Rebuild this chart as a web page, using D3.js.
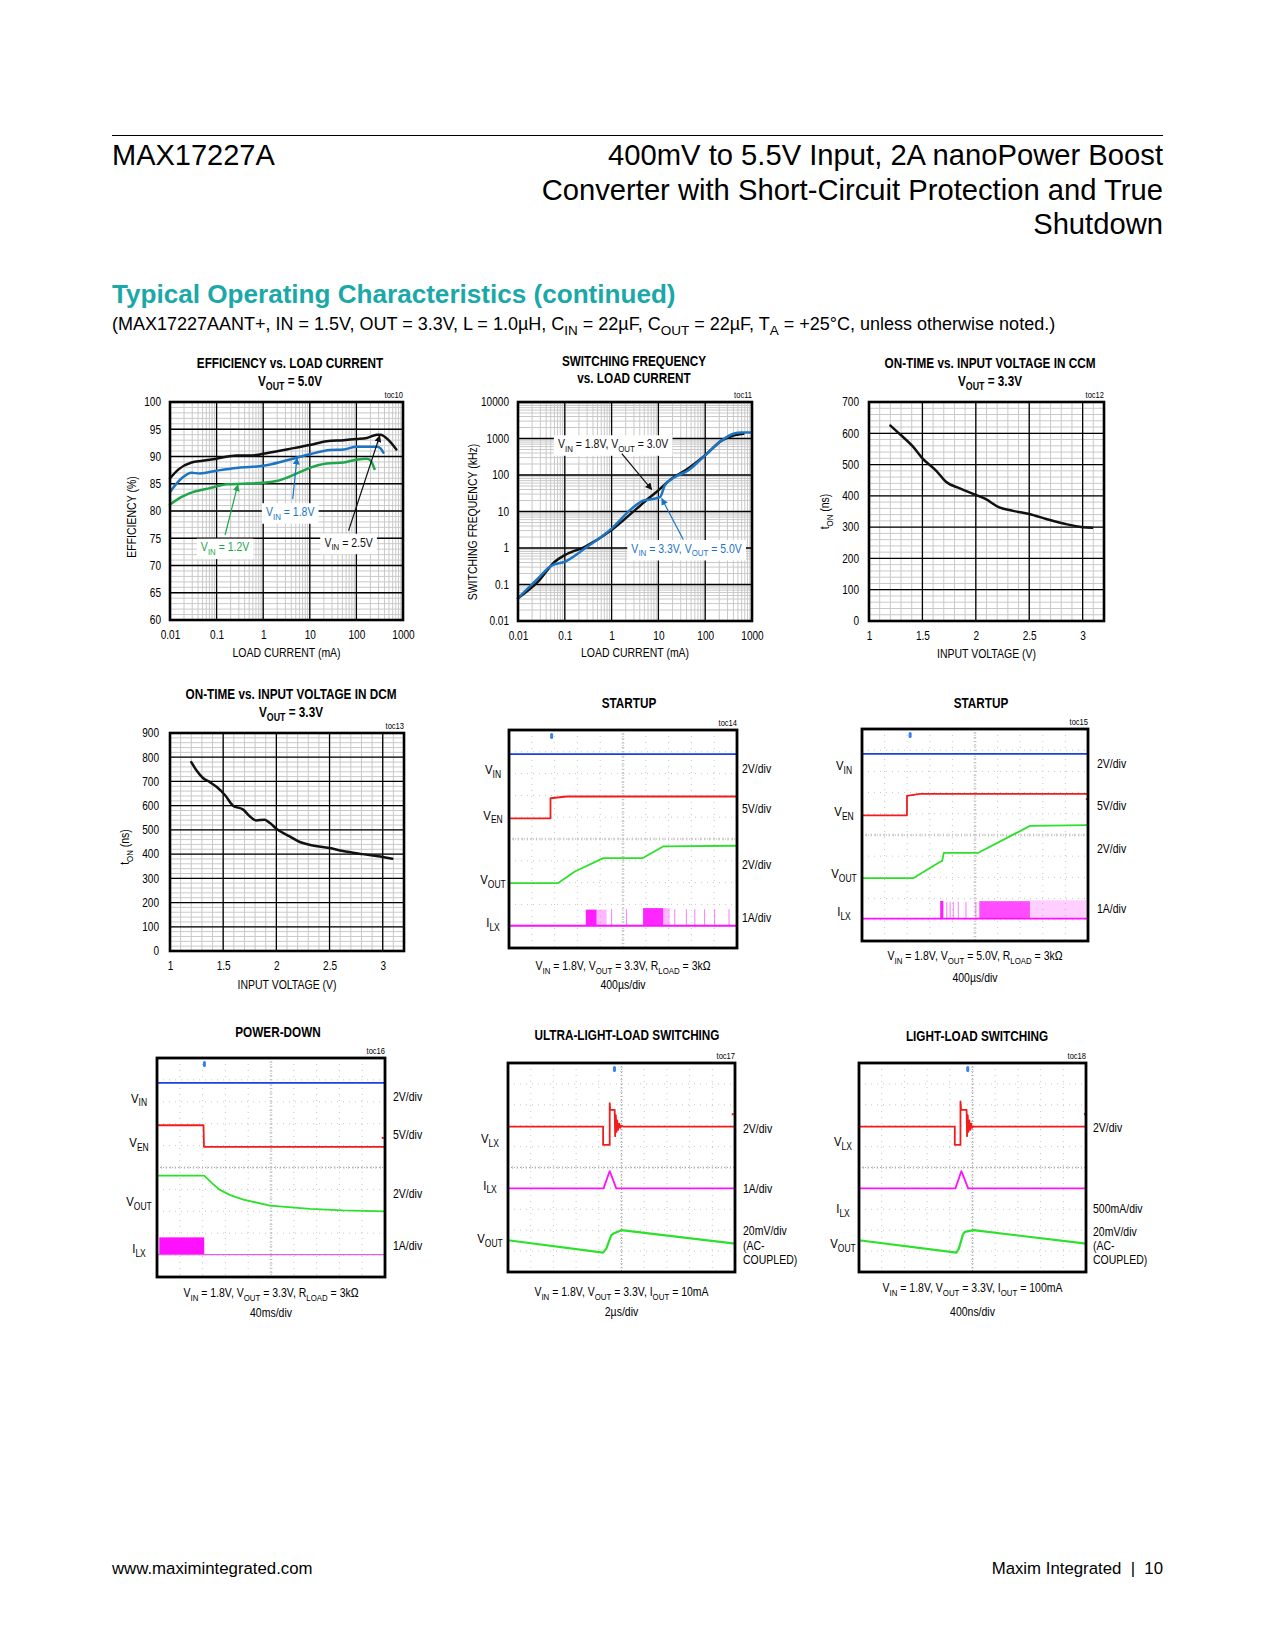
<!DOCTYPE html>
<html><head><meta charset="utf-8">
<script src="https://cdn.jsdelivr.net/npm/d3@7"></script>
<style>body{margin:0;background:#fff}svg{display:block}</style>
</head><body>
<script>
// ---------------- DATA ----------------
// toc10: efficiency (%) vs load current (mA)
const effVin25 = [[0.01,86.0],[0.015,87.6],[0.029,88.9],[0.05,89.2],[0.1,89.6],[0.27,90.2],[0.6,90.2],[1,90.5],[3.2,91.3],[10,92.1],[23,92.8],[53,93.0],[100,93.2],[168,93.4],[278,94.0],[330,94.0],[490,93.0],[720,91.3]];
const effVin18 = [[0.01,83.5],[0.0178,86.0],[0.029,87.0],[0.044,86.9],[0.1,87.4],[0.27,87.9],[0.6,88.1],[1,88.3],[3.2,89.3],[10,90.4],[27,91.2],[53,91.3],[100,91.8],[278,91.8],[330,91.5],[380,90.7]];
const effVin12 = [[0.01,81.2],[0.0178,82.6],[0.032,83.5],[0.072,84.2],[0.165,84.9],[0.375,85.0],[1,85.2],[1.94,85.5],[5.3,86.9],[10,87.9],[23,88.7],[53,88.9],[100,89.4],[168,89.6],[200,89.3],[245,87.7]];
const loadTicks = [0.01,0.1,1,10,100,1000];
const loadTickLabels = ["0.01","0.1","1","10","100","1000"];
const effTicks = [60,65,70,75,80,85,90,95,100];

// toc11: switching frequency (kHz) vs load current (mA)
const fswVin18 = [[0.01,0.042],[0.0268,0.119],[0.061,0.42],[0.1,0.64],[0.268,1.08],[1,3.1],[3.16,10.9],[6.1,22.6],[10,38],[19,79],[43,150],[100,347],[228,890],[373,1170],[660,1350]];
const fswVin33 = [[0.01,0.042],[0.0268,0.147],[0.052,0.33],[0.1,0.42],[0.268,0.97],[1,3.4],[2.7,12],[4.8,20],[8.5,22.6],[10.9,25],[13.7,52],[22.6,88],[43,133],[84,280],[228,890],[400,1350],[600,1460],[900,1460]];
const fswTicks = [0.01,0.1,1,10,100,1000,10000];
const fswTickLabels = ["0.01","0.1","1","10","100","1000","10000"];

// toc12 / toc13: on-time (ns) vs input voltage (V)
const tonCCM = [[1.2,625],[1.29,597],[1.41,558],[1.5,520],[1.63,480],[1.72,445],[1.85,424],[2.0,403],[2.09,390],[2.22,363],[2.35,352],[2.5,342],[2.66,326],[2.84,310],[3.0,300],[3.09,298]];
const tonDCM = [[1.2,780],[1.25,745],[1.31,714],[1.375,697],[1.44,677],[1.52,642],[1.59,601],[1.69,583],[1.75,556],[1.81,539],[1.89,542],[1.94,528],[2.0,505],[2.125,473],[2.22,450],[2.31,439],[2.5,425],[2.625,413],[2.81,400],[3.0,388],[3.09,381]];
const vinTicks = [1,1.5,2,2.5,3];
const vinTickLabels = ["1","1.5","2","2.5","3"];
const tonCCMTicks = [0,100,200,300,400,500,600,700];
const tonDCMTicks = [0,100,200,300,400,500,600,700,800,900];

// scope traces (time in divisions 0..10, level in divisions 0..10)
const s14Vin = [[0,8.89],[10,8.89]];
const s14Ven = [[0,5.95],[1.82,5.95],[1.82,6.87],[2.53,6.95],[10,6.95]];
const s14Vout = [[0,2.98],[2.16,2.98],[2.89,3.51],[4.13,4.12],[5.85,4.12],[6.76,4.66],[10,4.69]];
const s14Ilx = [[0,1.02],[10,1.02]];
const s14IlxBursts = [[3.37,3.84,1.76,0.95],[3.84,4.28,1.76,0.3],[5.88,6.76,1.83,0.9],[6.76,7.05,1.83,0.3]];
const s14IlxPulses = [4.5,5.15,7.27,7.78,8.15,8.58,9.02,9.65];

const s15Vin = [[0,8.83],[10,8.83]];
const s15Ven = [[0,5.93],[1.99,5.93],[1.99,6.85],[2.57,6.94],[10,6.94]];
const s15Vout = [[0,2.97],[2.28,2.97],[3.46,3.74],[3.55,3.78],[3.62,4.16],[5.15,4.16],[7.43,5.43],[10,5.47]];
const s15Ilx = [[0,1.06],[10,1.06]];
const s15IlxBursts = [[3.46,3.6,1.89,0.95],[5.19,7.43,1.88,0.75],[7.43,9.93,1.92,0.2]];
const s15IlxPulses = [3.75,3.9,4.04,4.26,4.6,5.04];

const s16Vin = [[0,8.86],[10,8.86]];
const s16Ven = [[0,6.93],[2.04,6.93],[2.06,5.94],[10,5.94]];
const s16Vout = [[0,4.63],[2.07,4.63],[2.4,4.3],[2.74,3.99],[3.21,3.74],[3.79,3.53],[4.96,3.26],[6.71,3.11],[8.16,3.04],[10,3.0]];
const s16Ilx = [[0,1.02],[10,1.02]];
const s16IlxBursts = [[0.1,2.07,1.81,1.0]];

const s17Vlx = [[0,6.96],[4.19,6.96],[4.19,6.08],[4.48,6.08],[4.48,8.08],[4.5,7.76],[4.70,7.76],[4.72,6.5],[4.75,7.5],[4.78,6.7],[4.81,7.25],[4.85,6.8],[4.9,7.1],[4.95,6.9],[5.0,7.0],[5.07,6.96],[10,6.96]];
const s17Ilx = [[0,4.0],[4.21,4.0],[4.48,4.83],[4.77,4.0],[10,4.0]];
const s17Vout = [[0,1.52],[4.19,0.93],[4.33,1.12],[4.55,1.76],[4.65,1.84],[4.99,2.0],[10,1.36]];

const s18Vlx = [[0,6.96],[4.22,6.96],[4.22,6.08],[4.47,6.08],[4.47,8.16],[4.5,7.76],[4.74,7.76],[4.76,6.5],[4.79,7.5],[4.82,6.7],[4.86,7.25],[4.9,6.8],[4.94,7.1],[4.98,6.9],[5.03,6.96],[10,6.96]];
const s18Ilx = [[0,4.0],[4.25,4.0],[4.51,4.83],[4.81,4.0],[10,4.0]];
const s18Vout = [[0,1.52],[4.29,0.93],[4.4,1.12],[4.58,1.8],[4.66,1.92],[5.04,2.0],[10,1.36]];

// ---------------- SETUP ----------------
const W = 1275, H = 1650;
const SANS = "'Liberation Sans', Arial, Helvetica, sans-serif";
const NARROW = "'Liberation Sans', Arial, Helvetica, sans-serif";
const SX = 0.84; // horizontal condensing for chart text (narrow face look)
const C = {black:'#111', blue:'#1b75c4', green:'#1ea64b',
  sBlue:'#1c3fe6', sRed:'#f21c1c', sGreen:'#2ce02c', sMag:'#ff10ff', teal:'#1aa8a8'};

const svg = d3.select('body').append('svg').attr('width', W).attr('height', H)
  .style('background', '#fff');
const defs = svg.append('defs');
function arrowMarker(id, color) {
  defs.append('marker').attr('id', id).attr('viewBox', '0 0 10 10').attr('refX', 9).attr('refY', 5)
    .attr('markerWidth', 7).attr('markerHeight', 7).attr('orient', 'auto-start-reverse')
    .attr('markerUnits', 'userSpaceOnUse')
    .append('path').attr('d', 'M0,0 L10,5 L0,10 z').attr('fill', color);
}
arrowMarker('arBlack', C.black); arrowMarker('arBlue', C.blue); arrowMarker('arGreen', C.green);

// rich text: "V_{IN} = 1.8V"
function rich(sel, str, fs) {
  const parts = str.split(/(_\{[^}]*\})/);
  let sub = false;
  const d = fs * 0.28;
  parts.forEach(p => {
    if (!p) return;
    if (p.startsWith('_{')) {
      sel.append('tspan').attr('dy', d).attr('font-size', fs * 0.75).text(p.slice(2, -1));
      sub = true;
    } else {
      const t = sel.append('tspan').text(p);
      if (sub) { t.attr('dy', -d); sub = false; }
    }
  });
  return sel;
}
function label(parent, x, y, str, fs, opts = {}) {
  const page = !!opts.family;
  const sx = page ? 1 : SX;
  const t = parent.append('text')
    .attr('transform', `translate(${x},${y})` + (opts.rotate ? ` rotate(${opts.rotate})` : '') + ` scale(${sx},1)`)
    .attr('font-family', opts.family || NARROW).attr('font-size', fs)
    .attr('font-weight', opts.bold ? 'bold' : 'normal')
    .attr('text-anchor', opts.anchor || 'start').attr('fill', opts.color || '#000');
  if (opts.pre) t.style('white-space', 'pre');
  rich(t, str, fs);
  return t;
}

// ---------------- PAGE HEADER ----------------
svg.append('line').attr('x1', 112).attr('x2', 1163).attr('y1', 135.5).attr('y2', 135.5)
  .attr('stroke', '#000').attr('stroke-width', 1);
label(svg, 112, 165, 'MAX17227A', 29, {family: SANS});
['400mV to 5.5V Input, 2A nanoPower Boost', 'Converter with Short-Circuit Protection and True', 'Shutdown']
  .forEach((s, i) => label(svg, 1163, 165 + i * 34.5, s, 29.2, {family: SANS, anchor: 'end'}));
label(svg, 112, 303, 'Typical Operating Characteristics (continued)', 26.1, {family: SANS, bold: true, color: C.teal});
label(svg, 112, 330, '(MAX17227AANT+, IN = 1.5V, OUT = 3.3V, L = 1.0µH, C_{IN} = 22µF, C_{OUT} = 22µF, T_{A} = +25°C, unless otherwise noted.)', 18, {family: SANS});
label(svg, 112, 1574, 'www.maximintegrated.com', 16.8, {family: SANS});
label(svg, 1163, 1574, 'Maxim Integrated  |  10', 16.8, {family: SANS, anchor: 'end', pre: true});

// ---------------- XY CHART ----------------
function condenseAxis(a) {
  a.select('.domain').remove();
  a.selectAll('text').each(function () {
    const el = d3.select(this);
    const xv = +el.attr('x') || 0;
    el.attr('x', xv / SX).attr('transform', `scale(${SX},1)`)
      .attr('font-family', NARROW).attr('font-size', 12).attr('fill', '#000');
  });
}

function xyChart(c) {
  const g = svg.append('g');
  const x = (c.xLog ? d3.scaleLog() : d3.scaleLinear()).domain(c.xDomain).range([c.x0, c.x0 + c.w]);
  const y = (c.yLog ? d3.scaleLog() : d3.scaleLinear()).domain(c.yDomain).range([c.y0 + c.h, c.y0]);
  const xMinor = c.xLog ? x.ticks() : d3.range(c.xDomain[0], c.xDomain[1] + 1e-9, c.xMinorStep);
  const yMinor = c.yLog ? y.ticks() : d3.range(c.yDomain[0], c.yDomain[1] + 1e-9, c.yMinorStep);
  const xMajor = c.xTicks, yMajor = c.yTicks;
  g.append('g').selectAll('line').data(xMinor).join('line')
    .attr('x1', d => x(d)).attr('x2', d => x(d)).attr('y1', c.y0).attr('y2', c.y0 + c.h)
    .attr('stroke', '#c9c9c9').attr('stroke-width', 1);
  g.append('g').selectAll('line').data(yMinor).join('line')
    .attr('y1', d => y(d)).attr('y2', d => y(d)).attr('x1', c.x0).attr('x2', c.x0 + c.w)
    .attr('stroke', '#c9c9c9').attr('stroke-width', 1);
  g.append('g').selectAll('line').data(xMajor).join('line')
    .attr('x1', d => x(d)).attr('x2', d => x(d)).attr('y1', c.y0).attr('y2', c.y0 + c.h)
    .attr('stroke', '#000').attr('stroke-width', 1.3);
  g.append('g').selectAll('line').data(yMajor).join('line')
    .attr('y1', d => y(d)).attr('y2', d => y(d)).attr('x1', c.x0).attr('x2', c.x0 + c.w)
    .attr('stroke', '#000').attr('stroke-width', 1.3);

  // annotation boxes
  (c.notes || []).forEach(n => {
    const ng = g.append('g');
    const rect = ng.append('rect').attr('fill', '#fff');
    const cx = x(n.at[0]), cy = y(n.at[1]) + 4.5;
    const t = label(ng, cx, cy, n.text, 12.5, {anchor: 'middle', color: n.color});
    const bb = t.node().getBBox();
    const bw = bb.width * SX;
    rect.attr('x', cx - bw / 2 - 4).attr('y', cy + bb.y - 2).attr('width', bw + 8).attr('height', bb.height + 4);
  });

  const line = d3.line().x(d => x(d[0])).y(d => y(d[1])).curve(d3.curveMonotoneX);
  c.series.forEach(s => {
    g.append('path').datum(s.data).attr('d', line).attr('fill', 'none')
      .attr('stroke', s.color).attr('stroke-width', s.width || 2.5)
      .attr('stroke-linejoin', 'round').attr('stroke-linecap', 'round');
  });
  (c.notes || []).forEach(n => {
    g.append('line').attr('x1', x(n.tail[0])).attr('y1', y(n.tail[1]))
      .attr('x2', x(n.tip[0])).attr('y2', y(n.tip[1]))
      .attr('stroke', n.color).attr('stroke-width', 1.2).attr('marker-end', `url(#${n.marker})`);
  });

  g.append('rect').attr('x', c.x0).attr('y', c.y0).attr('width', c.w).attr('height', c.h)
    .attr('fill', 'none').attr('stroke', '#000').attr('stroke-width', 2.6);

  g.append('g').attr('transform', `translate(0,${c.y0 + c.h})`)
    .call(d3.axisBottom(x).tickValues(c.xTicks).tickFormat((d, i) => c.xLabels[i]).tickSize(0).tickPadding(c.xPad || 10))
    .call(condenseAxis);
  g.append('g').attr('transform', `translate(${c.x0},0)`)
    .call(d3.axisLeft(y).tickValues(c.yTicks).tickFormat((d, i) => c.yLabels[i]).tickSize(0).tickPadding(c.yPad || 9))
    .call(condenseAxis);

  c.title.forEach((s, i) => label(g, c.titleX, c.titleY[i], s, 14, {bold: true, anchor: 'middle'}));
  label(g, c.x0 + c.w, c.y0 - 4, c.toc, 9, {anchor: 'end'});
  label(g, c.x0 + c.w / 2, c.xTitleY, c.xTitle, 12.5, {anchor: 'middle'});
  label(g, c.yTitleX, c.yTitleY || (c.y0 + c.h / 2), c.yTitle, 12.5, {anchor: 'middle', rotate: -90});
}

xyChart({
  x0: 170, y0: 402, w: 233, h: 218, xLog: true, xDomain: [0.01, 1000], yDomain: [60, 100], yMinorStep: 1,
  xTicks: loadTicks, xLabels: loadTickLabels, yTicks: effTicks, yLabels: effTicks.map(String),
  title: ['EFFICIENCY vs. LOAD CURRENT', 'V_{OUT} = 5.0V'], titleX: 290, titleY: [368, 386], toc: 'toc10',
  xTitle: 'LOAD CURRENT (mA)', xTitleY: 657, yTitle: 'EFFICIENCY (%)', yTitleX: 136, yTitleY: 517,
  series: [{data: effVin12, color: C.green}, {data: effVin18, color: C.blue}, {data: effVin25, color: C.black}],
  notes: [
    {text: 'V_{IN} = 1.8V', at: [3.8, 79.9], tail: [4.3, 82.2], tip: [5.3, 89.7], color: C.blue, marker: 'arBlue'},
    {text: 'V_{IN} = 1.2V', at: [0.152, 73.4], tail: [0.152, 75.6], tip: [0.285, 84.8], color: C.green, marker: 'arGreen'},
    {text: 'V_{IN} = 2.5V', at: [68, 74.3], tail: [68, 76.4], tip: [317, 93.8], color: C.black, marker: 'arBlack'}
  ]
});

xyChart({
  x0: 518, y0: 402, w: 234, h: 219, xLog: true, yLog: true, xDomain: [0.01, 1000], yDomain: [0.01, 10000],
  xTicks: loadTicks, xLabels: loadTickLabels, yTicks: fswTicks, yLabels: fswTickLabels,
  title: ['SWITCHING FREQUENCY', 'vs. LOAD CURRENT'], titleX: 634, titleY: [366, 383], toc: 'toc11',
  xTitle: 'LOAD CURRENT (mA)', xTitleY: 657, yTitle: 'SWITCHING FREQUENCY (kHz)', yTitleX: 477, yTitleY: 522,
  series: [{data: fswVin18, color: C.black}, {data: fswVin33, color: C.blue}],
  notes: [
    {text: 'V_{IN} = 1.8V, V_{OUT} = 3.0V', at: [1.08, 724], tail: [1.65, 385], tip: [7.2, 40], color: C.black, marker: 'arBlack'},
    {text: 'V_{IN} = 3.3V, V_{OUT} = 5.0V', at: [40, 0.98], tail: [34, 1.7], tip: [11.8, 22.6], color: C.blue, marker: 'arBlue'}
  ]
});

xyChart({
  x0: 869, y0: 402, w: 235, h: 219, xDomain: [1, 3.2], yDomain: [0, 700], xMinorStep: 0.1, yMinorStep: 20,
  xTicks: vinTicks, xLabels: vinTickLabels, yTicks: tonCCMTicks, yLabels: tonCCMTicks.map(String),
  yPad: 10,
  title: ['ON-TIME vs. INPUT VOLTAGE IN CCM', 'V_{OUT} = 3.3V'], titleX: 990, titleY: [368, 386], toc: 'toc12',
  xTitle: 'INPUT VOLTAGE (V)', xTitleY: 658, yTitle: 't_{ON} (ns)', yTitleX: 829,
  series: [{data: tonCCM, color: C.black}]
});

xyChart({
  x0: 170, y0: 733, w: 234, h: 218, xDomain: [1, 3.2], yDomain: [0, 900], xMinorStep: 0.1, yMinorStep: 20,
  xTicks: vinTicks, xLabels: vinTickLabels, yTicks: tonDCMTicks, yLabels: tonDCMTicks.map(String),
  yPad: 11,
  title: ['ON-TIME vs. INPUT VOLTAGE IN DCM', 'V_{OUT} = 3.3V'], titleX: 291, titleY: [699, 717], toc: 'toc13',
  xTitle: 'INPUT VOLTAGE (V)', xTitleY: 989, yTitle: 't_{ON} (ns)', yTitleX: 129, yTitleY: 847,
  series: [{data: tonDCM, color: C.black}]
});

// ---------------- SCOPE CHART ----------------
function scopeChart(c) {
  const g = svg.append('g');
  const x = d3.scaleLinear().domain([0, 10]).range([c.x0, c.x0 + c.w]);
  const y = d3.scaleLinear().domain([0, 10]).range([c.y0 + c.h, c.y0]);
  const divs = d3.range(1, 10);
  g.append('g').selectAll('line').data(divs).join('line')
    .attr('x1', d => x(d)).attr('x2', d => x(d)).attr('y1', c.y0).attr('y2', c.y0 + c.h)
    .attr('stroke', d => d === 5 ? '#a8a8a8' : '#c8c8c8').attr('stroke-width', 1)
    .attr('stroke-dasharray', d => d === 5 ? '1,2' : '1,5');
  g.append('g').selectAll('line').data(divs).join('line')
    .attr('y1', d => y(d)).attr('y2', d => y(d)).attr('x1', c.x0).attr('x2', c.x0 + c.w)
    .attr('stroke', d => d === 5 ? '#a8a8a8' : '#c8c8c8').attr('stroke-width', 1)
    .attr('stroke-dasharray', d => d === 5 ? '1,2' : '1,5');
  const sub = d3.range(0.2, 10, 0.2);
  g.append('g').selectAll('line').data(sub).join('line')
    .attr('x1', d => x(d)).attr('x2', d => x(d)).attr('y1', y(5) - 1.5).attr('y2', y(5) + 1.5)
    .attr('stroke', '#bcbcbc').attr('stroke-width', 0.8);
  g.append('g').selectAll('line').data(sub).join('line')
    .attr('y1', d => y(d)).attr('y2', d => y(d)).attr('x1', x(5) - 1.5).attr('x2', x(5) + 1.5)
    .attr('stroke', '#bcbcbc').attr('stroke-width', 0.8);

  (c.bursts || []).forEach(b => {
    g.append('rect').attr('x', x(b.data[0])).attr('width', x(b.data[1]) - x(b.data[0]))
      .attr('y', y(b.data[2])).attr('height', y(b.base) - y(b.data[2]))
      .attr('fill', b.color).attr('opacity', b.data[3]);
  });
  (c.pulses || []).forEach(p => {
    g.append('g').selectAll('line').data(p.data).join('line')
      .attr('x1', d => x(d)).attr('x2', d => x(d)).attr('y1', y(p.base)).attr('y2', y(p.top))
      .attr('stroke', p.color).attr('stroke-width', 1).attr('opacity', 0.55);
  });
  const line = d3.line().x(d => x(d[0])).y(d => y(d[1]));
  c.traces.forEach(t => {
    g.append('path').datum(t.data).attr('d', line).attr('fill', 'none')
      .attr('stroke', t.color).attr('stroke-width', t.width || 1.8).attr('opacity', t.opacity || 1)
      .attr('stroke-linejoin', 'round');
  });
  // trigger marker
  g.append('rect').attr('x', x(c.trig) - 1.5).attr('y', c.y0 + 3).attr('width', 3).attr('height', 6)
    .attr('rx', 1.5).attr('fill', '#3a7ff0');
  (c.dots || []).forEach(d => g.append('rect').attr('x', x(d[0]) - 1).attr('y', y(d[1]) - 1)
    .attr('width', 2).attr('height', 2).attr('fill', C.sRed));

  g.append('rect').attr('x', c.x0).attr('y', c.y0).attr('width', c.w).attr('height', c.h)
    .attr('fill', 'none').attr('stroke', '#000').attr('stroke-width', 2.8);

  c.left.forEach((s, i) => label(g, c.x0 + c.leftDx, y(c.leftY[i]) + 4.5, s, 13.5, {anchor: 'middle'}));
  c.right.forEach((s, i) => label(g, c.x0 + c.w + c.rightDx, y(c.rightY[i]) + 4.5, s, 12.5));
  label(g, c.titleX, c.titleY, c.title, 14, {bold: true, anchor: 'middle'});
  label(g, c.x0 + c.w, c.y0 - 4, c.toc, 9, {anchor: 'end'});
  c.caption.forEach((s, i) => label(g, c.x0 + c.w / 2, c.capY[i], s, 12.5, {anchor: 'middle'}));
}

scopeChart({
  x0: 509, y0: 730, w: 228, h: 218, trig: 1.87, title: 'STARTUP', titleX: 629, titleY: 708, toc: 'toc14',
  traces: [{data: s14Vin, color: C.sBlue}, {data: s14Ven, color: C.sRed}, {data: s14Vout, color: C.sGreen}, {data: s14Ilx, color: C.sMag}],
  bursts: s14IlxBursts.map(d => ({data: d, base: 1.02, color: C.sMag})),
  pulses: [{data: s14IlxPulses, base: 1.02, top: 1.78, color: C.sMag}],
  left: ['V_{IN}', 'V_{EN}', 'V_{OUT}', 'I_{LX}'], leftY: [8.17, 6.1, 3.13, 1.15], leftDx: -16,
  right: ['2V/div', '5V/div', '2V/div', '1A/div'], rightY: [8.25, 6.41, 3.82, 1.42], rightDx: 5,
  caption: ['V_{IN} = 1.8V, V_{OUT} = 3.3V, R_{LOAD} = 3kΩ', '400µs/div'], capY: [970, 989]
});

scopeChart({
  x0: 862, y0: 729, w: 226, h: 212, trig: 2.13, title: 'STARTUP', titleX: 981, titleY: 708, toc: 'toc15',
  traces: [{data: s15Vin, color: C.sBlue}, {data: s15Ven, color: C.sRed}, {data: s15Vout, color: C.sGreen}, {data: s15Ilx, color: C.sMag}],
  bursts: s15IlxBursts.map(d => ({data: d, base: 1.06, color: C.sMag})),
  pulses: [{data: s15IlxPulses, base: 1.06, top: 1.85, color: C.sMag}],
  dots: [[9.95, 6.7]],
  left: ['V_{IN}', 'V_{EN}', 'V_{OUT}', 'I_{LX}'], leftY: [8.26, 6.1, 3.19, 1.37], leftDx: -18,
  right: ['2V/div', '5V/div', '2V/div', '1A/div'], rightY: [8.39, 6.37, 4.37, 1.53], rightDx: 9,
  caption: ['V_{IN} = 1.8V, V_{OUT} = 5.0V, R_{LOAD} = 3kΩ', '400µs/div'], capY: [960, 982]
});

scopeChart({
  x0: 157, y0: 1058, w: 228, h: 219, trig: 2.08, title: 'POWER-DOWN', titleX: 278, titleY: 1037, toc: 'toc16',
  traces: [{data: s16Vin, color: C.sBlue}, {data: s16Ven, color: C.sRed}, {data: s16Vout, color: C.sGreen}, {data: s16Ilx, color: '#e65ce6', width: 1.3}],
  bursts: s16IlxBursts.map(d => ({data: d, base: 1.02, color: C.sMag})),
  dots: [[9.9, 6.35]],
  left: ['V_{IN}', 'V_{EN}', 'V_{OUT}', 'I_{LX}'], leftY: [8.17, 6.12, 3.45, 1.28], leftDx: -18,
  right: ['2V/div', '5V/div', '2V/div', '1A/div'], rightY: [8.25, 6.5, 3.79, 1.45], rightDx: 8,
  caption: ['V_{IN} = 1.8V, V_{OUT} = 3.3V, R_{LOAD} = 3kΩ', '40ms/div'], capY: [1297, 1317]
});

scopeChart({
  x0: 508, y0: 1063, w: 227, h: 209, trig: 4.69, title: 'ULTRA-LIGHT-LOAD SWITCHING', titleX: 627, titleY: 1040, toc: 'toc17',
  traces: [{data: s17Vlx, color: C.sRed}, {data: s17Ilx, color: C.sMag}, {data: s17Vout, color: C.sGreen, width: 2.2}],
  dots: [[9.9, 7.55]],
  left: ['V_{LX}', 'I_{LX}', 'V_{OUT}'], leftY: [6.4, 4.16, 1.6], leftDx: -18,
  right: ['2V/div', '1A/div', '20mV/div', '(AC-', 'COUPLED)'], rightY: [6.88, 4.0, 1.97, 1.25, 0.6], rightDx: 8,
  caption: ['V_{IN} = 1.8V, V_{OUT} = 3.3V, I_{OUT} = 10mA', '2µs/div'], capY: [1296, 1316]
});

scopeChart({
  x0: 859, y0: 1063, w: 227, h: 209, trig: 4.79, title: 'LIGHT-LOAD SWITCHING', titleX: 977, titleY: 1041, toc: 'toc18',
  traces: [{data: s18Vlx, color: C.sRed}, {data: s18Ilx, color: C.sMag}, {data: s18Vout, color: C.sGreen, width: 2.2}],
  dots: [[9.95, 7.55]],
  left: ['V_{LX}', 'I_{LX}', 'V_{OUT}'], leftY: [6.24, 3.04, 1.36], leftDx: -16,
  right: ['2V/div', '500mA/div', '20mV/div', '(AC-', 'COUPLED)'], rightY: [6.93, 3.04, 1.92, 1.25, 0.6], rightDx: 7,
  caption: ['V_{IN} = 1.8V, V_{OUT} = 3.3V, I_{OUT} = 100mA', '400ns/div'], capY: [1292, 1316]
});
</script>
</body></html>
